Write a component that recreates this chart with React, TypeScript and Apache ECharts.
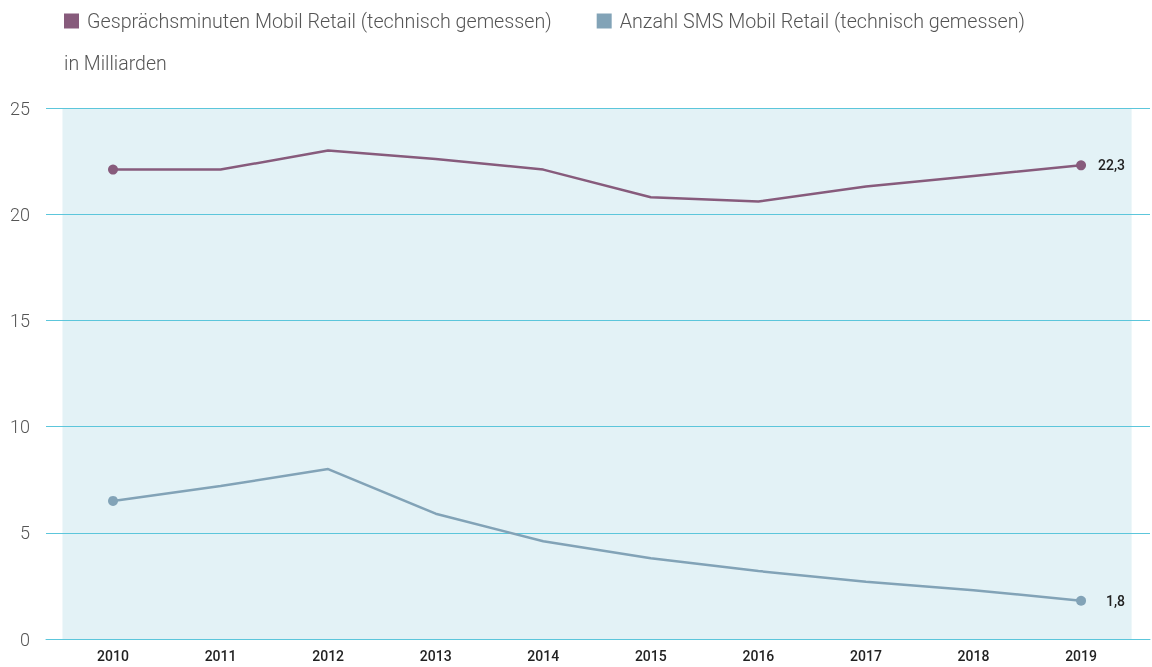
import React, { useEffect, useRef } from "react";
import * as echarts from "echarts";

const years = [2010, 2011, 2012, 2013, 2014, 2015, 2016, 2017, 2018, 2019];
const minutes = [22.1, 22.1, 23.0, 22.6, 22.1, 20.8, 20.6, 21.3, 21.8, 22.3];
const sms = [6.5, 7.2, 8.0, 5.9, 4.6, 3.8, 3.2, 2.7, 2.3, 1.8];
const yTicks = [0, 5, 10, 15, 20, 25];
const seriesNames = [
  "Gesprächsminuten Mobil Retail (technisch gemessen)",
  "Anzahl SMS Mobil Retail (technisch gemessen)",
];
const unitLabel = "in Milliarden";

const PURPLE = "#875b7c";
const BLUE = "#82a3b7";
const GRID = "#5cc6db";
const FONT = "Roboto, 'Liberation Sans', sans-serif";

export default function App() {
  const ref = useRef<HTMLDivElement>(null);
  useEffect(() => {
    if (!ref.current) return;
    const chart = echarts.init(ref.current, undefined, { renderer: "svg" });
    const last = years.length - 1;
    const mk = (vals: number[]) => vals.map((v, i) => [years[i], v]);
    const endLabel = {
      show: true,
      position: "right",
      distance: 39,
      align: "right",
      formatter: (p: any) => String(p.value[1]).replace(".", ","),
      fontFamily: FONT,
      fontWeight: 500,
      fontSize: 14,
      color: "#222",
    };
    const lineSeries = (name: string, vals: number[], color: string) => ({
      name,
      type: "line",
      data: mk(vals).map((d, i) =>
        i === 0 || i === last
          ? { value: d, symbolSize: 10, label: i === last ? endLabel : { show: false } }
          : { value: d, symbolSize: 0 }
      ),
      symbol: "circle",
      showSymbol: true,
      color,
      lineStyle: { color, width: 2.5 },
      itemStyle: { color },
      z: 4,
    });
    chart.setOption({
      animation: false,
      title: {
        text: unitLabel,
        left: 59,
        top: 48,
        textStyle: { fontFamily: FONT, fontWeight: 300, fontSize: 19.5, color: "#555" },
      },
      legend: {
        left: 59,
        top: 6,
        icon: "rect",
        itemWidth: 15,
        itemHeight: 15,
        itemGap: 45,
        data: seriesNames,
        textStyle: { fontFamily: FONT, fontWeight: 300, fontSize: 19.7, color: "#555", padding: [0, 0, 0, 3] },
      },
      grid: { left: 46, right: 2, top: 108, bottom: 28 },
      xAxis: {
        type: "value",
        min: 2009.377,
        max: 2019.641,
        z: 3,
        axisLine: { show: true, lineStyle: { color: GRID, width: 1 } },
        axisTick: { show: false },
        splitLine: { show: false },
        axisLabel: {
          customValues: years,
          margin: 10,
          fontFamily: FONT,
          fontWeight: 500,
          fontSize: 14,
          color: "#222",
          formatter: (v: number) => String(Math.round(v)),
        },
      },
      yAxis: {
        type: "value",
        min: 0,
        max: 25,
        interval: 5,
        z: 3,
        axisLine: { show: false },
        axisTick: { show: false },
        splitLine: { show: true, lineStyle: { color: GRID, width: 1 } },
        axisLabel: {
          customValues: yTicks,
          margin: 16,
          fontFamily: FONT,
          fontWeight: 300,
          fontSize: 18,
          color: "#555",
        },
      },
      series: [
        {
          name: "bg",
          type: "line",
          data: [],
          z: 1,
          silent: true,
          markArea: {
            silent: true,
            itemStyle: { color: "#e3f2f6" },
            data: [[{ xAxis: years[0] - 0.47 }, { xAxis: years[last] + 0.47 }]],
          },
        },
        lineSeries(seriesNames[0], minutes, PURPLE),
        lineSeries(seriesNames[1], sms, BLUE),
      ],
    });
    return () => chart.dispose();
  }, []);
  return (
    <div
      ref={ref}
      style={{ position: "fixed", left: 0, top: 0, width: 1152, height: 667 }}
    />
  );
}
